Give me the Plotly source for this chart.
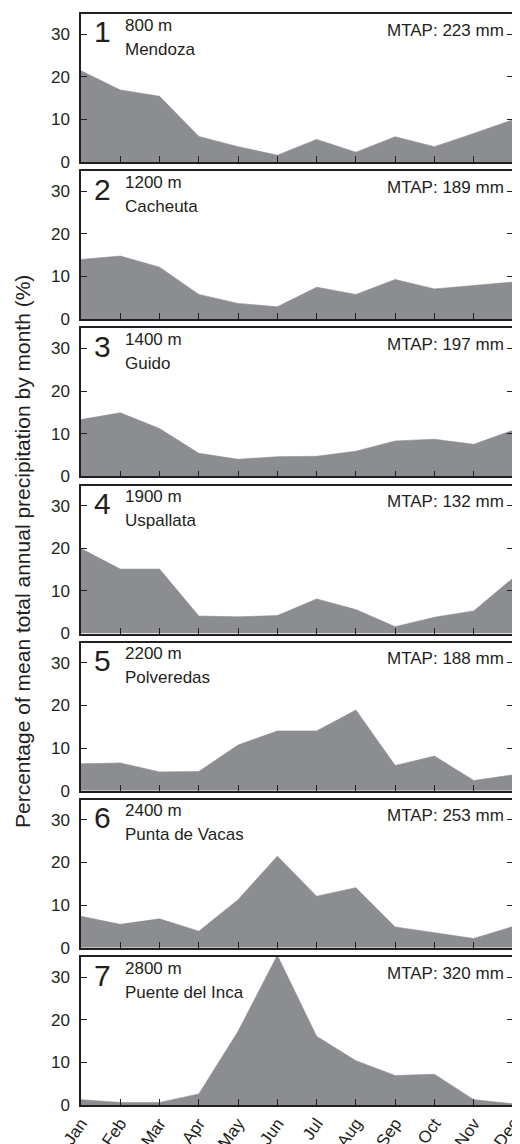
import plotly.graph_objects as go

months = ["Jan", "Feb", "Mar", "Apr", "May", "Jun", "Jul", "Aug", "Sep", "Oct", "Nov", "Dec"]
panel_numbers = ["1", "2", "3", "4", "5", "6", "7"]
elevations = ["800 m", "1200 m", "1400 m", "1900 m", "2200 m", "2400 m", "2800 m"]
stations = ["Mendoza", "Cacheuta", "Guido", "Uspallata", "Polveredas", "Punta de Vacas", "Puente del Inca"]
mtap_mm = [223, 189, 197, 132, 188, 253, 320]

mendoza = [21.4, 16.9, 15.4, 6.0, 3.6, 1.6, 5.3, 2.3, 5.9, 3.6, 6.7, 9.9]
cacheuta = [14.0, 14.8, 12.2, 5.8, 3.7, 2.9, 7.5, 5.8, 9.3, 7.1, 7.9, 8.7]
guido = [13.3, 14.9, 11.2, 5.4, 4.0, 4.6, 4.7, 5.9, 8.3, 8.7, 7.5, 10.8]
uspallata = [19.9, 15.1, 15.1, 4.1, 3.9, 4.2, 8.1, 5.6, 1.6, 3.8, 5.3, 13.0]
polveredas = [6.3, 6.5, 4.4, 4.5, 10.7, 14.0, 14.0, 18.9, 5.9, 8.1, 2.4, 3.7]
punta_de_vacas = [7.4, 5.5, 6.8, 3.9, 11.3, 21.5, 12.1, 14.1, 4.9, 3.5, 2.2, 5.0]
puente_del_inca = [1.25, 0.6, 0.6, 2.6, 17.3, 35.1, 16.1, 10.4, 6.9, 7.2, 1.25, 0.3]

series = [mendoza, cacheuta, guido, uspallata, polveredas, punta_de_vacas, puente_del_inca]
y_ticks = [0, 10, 20, 30]

INK = "#231f20"
FILL = "#8c8d91"
FONT = "Liberation Sans, Arial, Helvetica, sans-serif"

W, H = 520, 1144
# page body offsets the figure by 8px; margins chosen so the frame lands at x 81..513, y 14..1105
ML, MR, MT, MB = 73, 15, 6, 47
plot_w = W - ML - MR
plot_h = H - MT - MB
panel_h = 148
n = len(series)
step = (plot_h - panel_h) / (n - 1)

fig = go.Figure()
layout = dict(
    width=W, height=H,
    margin=dict(l=ML, r=MR, t=MT, b=MB),
    paper_bgcolor="white", plot_bgcolor="white",
    showlegend=False,
    font=dict(family=FONT, size=17, color=INK),
)
annotations = []
for k in range(n):
    idx = "" if k == 0 else str(k + 1)
    xa, ya = "x" + idx, "y" + idx
    top_px = k * step
    bot_px = top_px + panel_h
    d1 = min(1.0, max(0.0, 1 - top_px / plot_h))
    d0 = min(1.0, max(0.0, 1 - bot_px / plot_h))
    fig.add_trace(go.Scatter(
        x=months, y=series[k], xaxis=xa, yaxis=ya,
        mode="lines", fill="tozeroy", fillcolor=FILL,
        line=dict(width=0.6, color=FILL), hoverinfo="skip",
    ))
    layout["xaxis" + idx] = dict(
        domain=[0, 1], anchor=ya, type="category",
        range=[0, len(months) - 1],
        showline=True, mirror=True, linecolor=INK, linewidth=1.5,
        ticks="inside", ticklen=6, tickwidth=1.2, tickcolor=INK,
        tickmode="array", tickvals=months, ticktext=months,
        showticklabels=(k == n - 1), tickangle=-55,
        tickfont=dict(size=17, color=INK, family=FONT),
        showgrid=False, zeroline=False, automargin=False,
    )
    layout["yaxis" + idx] = dict(
        domain=[d0, d1], anchor=xa,
        range=[0, 34.7],
        showline=True, mirror="ticks", linecolor=INK, linewidth=1.5,
        ticks="inside", ticklen=6, tickwidth=1.2, tickcolor=INK,
        tickmode="array", tickvals=y_ticks,
        tickfont=dict(size=17, color=INK, family=FONT),
        ticklabelstandoff=6,
        showgrid=False, zeroline=False, automargin=False,
    )
    annotations.append(dict(
        xref=xa + " domain", yref=ya + " domain",
        x=11 / plot_w, y=1 - 18 / panel_h, xanchor="left", yanchor="middle",
        text=panel_numbers[k], showarrow=False,
        font=dict(size=30, color=INK, family=FONT),
    ))
    annotations.append(dict(
        xref=xa + " domain", yref=ya + " domain",
        x=42 / plot_w, y=1 - 11 / panel_h, xanchor="left", yanchor="middle",
        text=elevations[k], showarrow=False,
        font=dict(size=17, color=INK, family=FONT),
    ))
    annotations.append(dict(
        xref=xa + " domain", yref=ya + " domain",
        x=42 / plot_w, y=1 - 35 / panel_h, xanchor="left", yanchor="middle",
        text=stations[k], showarrow=False,
        font=dict(size=17, color=INK, family=FONT),
    ))
    annotations.append(dict(
        xref=xa + " domain", yref=ya + " domain",
        x=1 - 7 / plot_w, y=1 - 16 / panel_h, xanchor="right", yanchor="middle",
        text=f"MTAP: {mtap_mm[k]} mm", showarrow=False,
        font=dict(size=17, color=INK, family=FONT),
    ))

annotations.append(dict(
    xref="paper", yref="paper",
    x=(22 - 8 - ML) / plot_w, y=1 - (552 - 8 - MT) / plot_h,
    xanchor="center", yanchor="middle", textangle=-90,
    text="Percentage of mean total annual precipitation by month (%)",
    showarrow=False, font=dict(size=21, color=INK, family=FONT),
))
layout["annotations"] = annotations
fig.update_layout(**layout)
fig.write_html("out.html")
